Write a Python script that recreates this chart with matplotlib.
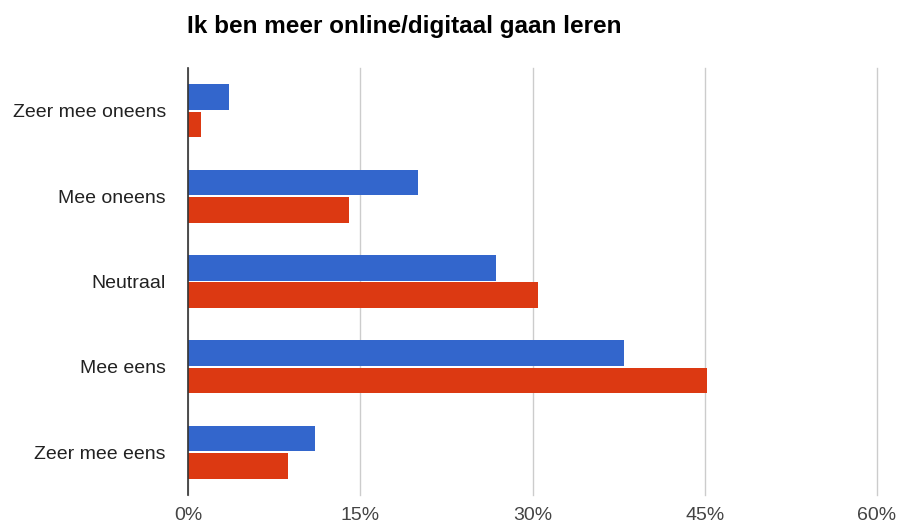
import matplotlib
matplotlib.use("Agg")
import matplotlib.pyplot as plt
import numpy as np

plt.rcParams['font.family'] = ['Liberation Sans', 'DejaVu Sans']

title = "Ik ben meer online/digitaal gaan leren"
categories = ["Zeer mee oneens", "Mee oneens", "Neutraal", "Mee eens", "Zeer mee eens"]
series_blue = [3.6, 20.0, 26.8, 38.0, 11.1]
series_red = [1.1, 14.0, 30.5, 45.2, 8.7]
x_ticks = [0, 15, 30, 45, 60]
x_tick_labels = ["0%", "15%", "30%", "45%", "60%"]

fig = plt.figure(figsize=(8.98, 5.27), dpi=100)
ax = fig.add_axes([188 / 898, 32 / 527, 689 / 898, 427 / 527])

y = np.arange(len(categories))
h = 0.3
off = 0.16
ax.barh(y - off, series_blue, height=h, color="#3366cc", zorder=3)
ax.barh(y + off, series_red, height=h, color="#dc3912", zorder=3)

ax.set_xlim(0, 60)
ax.set_ylim(len(categories) - 0.5, -0.5)
ax.set_xticks(x_ticks)
ax.set_xticklabels(x_tick_labels, fontsize=14, color="#444444")
ax.set_yticks(y)
ax.set_yticklabels(categories, fontsize=14, color="#222222")
ax.tick_params(axis="both", length=0)
ax.tick_params(axis="x", pad=9)
ax.tick_params(axis="y", pad=16)
ax.xaxis.grid(True, color="#cccccc", linewidth=1, zorder=0)
for gl in ax.get_xgridlines():
    gl.set_clip_on(False)
for s in ["top", "right", "bottom"]:
    ax.spines[s].set_visible(False)
ax.spines["left"].set_color("#333333")
ax.spines["left"].set_linewidth(1.2)
ax.spines["left"].set_zorder(4)

fig.text(187 / 898, 1 - 26 / 527, title, fontsize=17.5, fontweight="bold",
         color="#000000", ha="left", va="center")

fig.savefig("out.png", dpi=100, facecolor="white")
